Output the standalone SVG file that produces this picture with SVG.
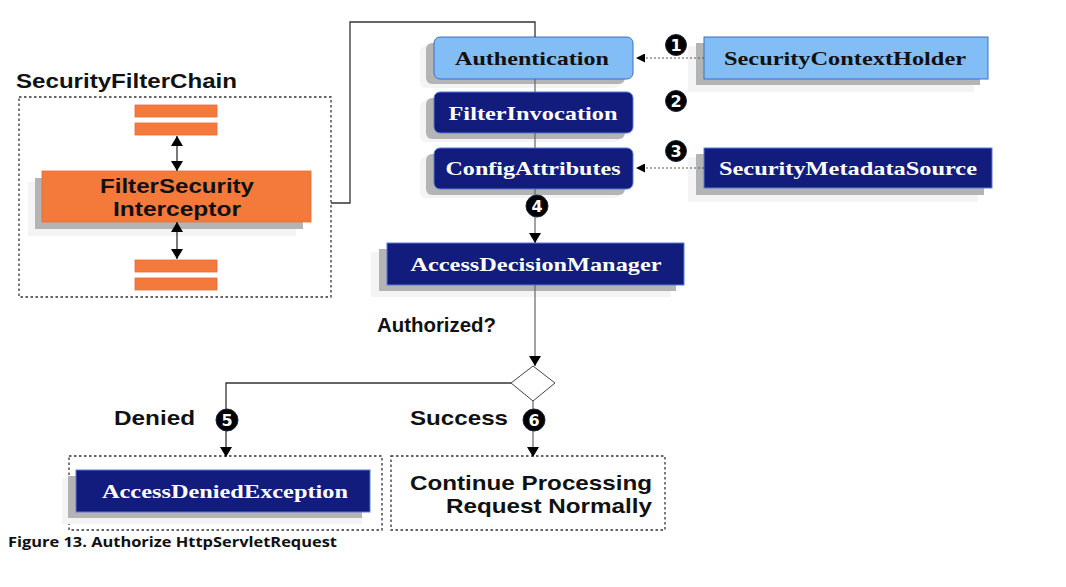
<svg xmlns="http://www.w3.org/2000/svg" width="1066" height="587" viewBox="0 0 1066 587">
<defs>
<marker id="ah" viewBox="0 0 10 12" refX="10" refY="6" markerWidth="10" markerHeight="12" markerUnits="userSpaceOnUse" orient="auto">
<path d="M0,0 L10,6 L0,12 z" fill="#000"/>
</marker>
<marker id="ahs" viewBox="0 0 10 12" refX="0" refY="6" markerWidth="10" markerHeight="12" markerUnits="userSpaceOnUse" orient="auto">
<path d="M10,0 L0,6 L10,12 z" fill="#000"/>
</marker>
<marker id="ahsmall" viewBox="0 0 10 10" refX="10" refY="5" markerWidth="9" markerHeight="9" markerUnits="userSpaceOnUse" orient="auto">
<path d="M0,0 L10,5 L0,10 z" fill="#000"/>
</marker>
</defs>
<style>
.serif{font-family:"Liberation Serif","Times New Roman",serif;font-weight:bold;font-size:19px;text-anchor:middle}
.w{fill:#fff}
.k{fill:#111}
.sans{font-family:"Liberation Sans",Arial,sans-serif;font-weight:bold;fill:#111}
.navy{fill:#121c7c;stroke:#5b7ad6;stroke-width:1}
.light{fill:#82bdf5;stroke:#3f6fc0;stroke-width:1}
.orange{fill:#f47a3c;stroke:#e8693a;stroke-width:0.8}
.sh{fill:#b4b4b4}
.halo{fill:#f4f4f4}
.dot{fill:none;stroke:#333;stroke-width:1.3;stroke-dasharray:2.5,2.5}
.line{fill:none;stroke:#333;stroke-width:1.3}
.gline{fill:none;stroke:#666;stroke-width:1.2}
.dash{fill:none;stroke:#555;stroke-width:1;stroke-dasharray:2,2}
.badge{fill:#000;stroke:#1a2a40;stroke-width:1}
.bt{font-family:"DejaVu Sans",sans-serif;font-weight:bold;font-size:16px;fill:#fff;text-anchor:middle}
</style>
<rect width="1066" height="587" fill="#fff"/>

<g id="securityFilterChain">
<text class="sans" x="16" y="88" font-size="21" textLength="221" lengthAdjust="spacingAndGlyphs">SecurityFilterChain</text>
<rect class="dot" x="19" y="97" width="312" height="200"/>
<rect class="orange" x="135" y="105" width="82" height="12"/>
<rect class="orange" x="135" y="123" width="82" height="12"/>
<rect class="orange" x="135" y="260" width="82" height="12"/>
<rect class="orange" x="135" y="278" width="82" height="12"/>
</g>

<g id="filterSecurityInterceptor">
<rect class="halo" x="28" y="182" width="268" height="54"/>
<rect class="sh" x="35" y="178" width="268" height="51"/>
<rect class="orange" x="42" y="171" width="269" height="51"/>
<text class="sans" x="177" y="193" font-size="21" text-anchor="middle" textLength="154" lengthAdjust="spacingAndGlyphs">FilterSecurity</text>
<text class="sans" x="177" y="216" font-size="21" text-anchor="middle" textLength="128" lengthAdjust="spacingAndGlyphs">Interceptor</text>
</g>

<g id="authentication">
<rect class="halo" x="420" y="46" width="200" height="42" rx="6"/>
<rect class="sh" x="426" y="43" width="199" height="41" rx="6"/>
<rect class="light" x="434" y="37" width="199" height="42" rx="6"/>
<text class="serif k" x="532" y="65" textLength="154" lengthAdjust="spacingAndGlyphs">Authentication</text>
</g>

<g id="filterInvocation">
<rect class="halo" x="420" y="101" width="200" height="41" rx="6"/>
<rect class="sh" x="426" y="98" width="199" height="41" rx="6"/>
<rect class="navy" x="434" y="92" width="199" height="41" rx="6"/>
<text class="serif w" x="533" y="120" textLength="169" lengthAdjust="spacingAndGlyphs">FilterInvocation</text>
</g>

<g id="configAttributes">
<rect class="halo" x="420" y="157" width="200" height="41" rx="6"/>
<rect class="sh" x="426" y="154" width="199" height="41" rx="6"/>
<rect class="navy" x="434" y="148" width="199" height="41" rx="6"/>
<text class="serif w" x="533" y="175" textLength="175" lengthAdjust="spacingAndGlyphs">ConfigAttributes</text>
</g>

<g id="securityContextHolder">
<rect class="halo" x="688" y="46" width="286" height="46"/>
<rect class="sh" x="696" y="43" width="284" height="42"/>
<rect class="light" x="704" y="37" width="284" height="42"/>
<text class="serif k" x="845" y="65" textLength="242" lengthAdjust="spacingAndGlyphs">SecurityContextHolder</text>
</g>

<g id="securityMetadataSource">
<rect class="halo" x="688" y="157" width="290" height="45"/>
<rect class="sh" x="696" y="154" width="288" height="41"/>
<rect class="navy" x="704" y="148" width="288" height="40"/>
<text class="serif w" x="848" y="175" textLength="258" lengthAdjust="spacingAndGlyphs">SecurityMetadataSource</text>
</g>

<g id="accessDecisionManager">
<rect class="halo" x="371" y="252" width="300" height="45"/>
<rect class="sh" x="379" y="249" width="297" height="42"/>
<rect class="navy" x="387" y="243" width="297" height="42"/>
<text class="serif w" x="536" y="271" textLength="251" lengthAdjust="spacingAndGlyphs">AccessDecisionManager</text>
</g>

<g id="decision">
<text class="sans" x="377" y="332" font-size="20" textLength="119" lengthAdjust="spacingAndGlyphs">Authorized?</text>
<path d="M533,366 L555,383 L533,401 L511,383 z" fill="#fff" stroke="#444" stroke-width="1"/>
</g>

<g id="denied">
<text class="sans" x="114" y="425" font-size="21" textLength="81" lengthAdjust="spacingAndGlyphs">Denied</text>
<rect class="dot" x="69" y="456" width="313" height="74"/>
<rect class="halo" x="62" y="478" width="300" height="46"/>
<rect class="sh" x="68" y="476" width="294" height="42"/>
<rect class="navy" x="76" y="470" width="294" height="42"/>
<text class="serif w" x="225" y="498" textLength="246" lengthAdjust="spacingAndGlyphs">AccessDeniedException</text>
</g>

<g id="success">
<text class="sans" x="410" y="425" font-size="21" textLength="98" lengthAdjust="spacingAndGlyphs">Success</text>
<rect class="dot" x="391" y="456" width="274" height="74"/>
<text class="sans" x="652" y="490" font-size="21" text-anchor="end" textLength="242" lengthAdjust="spacingAndGlyphs">Continue Processing</text>
<text class="sans" x="652" y="513" font-size="21" text-anchor="end" textLength="206" lengthAdjust="spacingAndGlyphs">Request Normally</text>
</g>

<g id="connectors">
<path class="line" d="M331,203 H350 V22 H535 V37"/>
<path class="gline" d="M535,79 V92 M535,133 V148"/>
<path class="gline" d="M535,189 V243" marker-end="url(#ah)"/>
<path class="gline" d="M535,285 V366" marker-end="url(#ah)"/>
<path class="line" d="M511,383 H226 V457" marker-end="url(#ah)"/>
<path class="gline" d="M533,401 V457" marker-end="url(#ah)"/>
<path class="dash" d="M704,58 H636" marker-end="url(#ahsmall)"/>
<path class="dash" d="M704,168 H636" marker-end="url(#ahsmall)"/>
<path class="line" d="M177,136 V171" marker-start="url(#ahs)" marker-end="url(#ah)"/>
<path class="line" d="M177,222 V259" marker-start="url(#ahs)" marker-end="url(#ah)"/>
</g>

<g id="badges">
<circle class="badge" cx="676" cy="45" r="10.5"/><text class="bt" x="676" y="51">1</text>
<circle class="badge" cx="676" cy="101" r="10.5"/><text class="bt" x="676" y="107">2</text>
<circle class="badge" cx="676" cy="151" r="10.5"/><text class="bt" x="676" y="157">3</text>
<circle class="badge" cx="537" cy="206" r="11"/><text class="bt" x="537" y="212">4</text>
<circle class="badge" cx="227" cy="420" r="11"/><text class="bt" x="227" y="426">5</text>
<circle class="badge" cx="534" cy="420" r="11"/><text class="bt" x="534" y="426">6</text>
</g>

<text x="8" y="547" font-family="'Open Sans','DejaVu Sans',sans-serif" font-weight="bold" font-size="14" fill="#111" textLength="329" lengthAdjust="spacingAndGlyphs">Figure 13. Authorize HttpServletRequest</text>
</svg>
